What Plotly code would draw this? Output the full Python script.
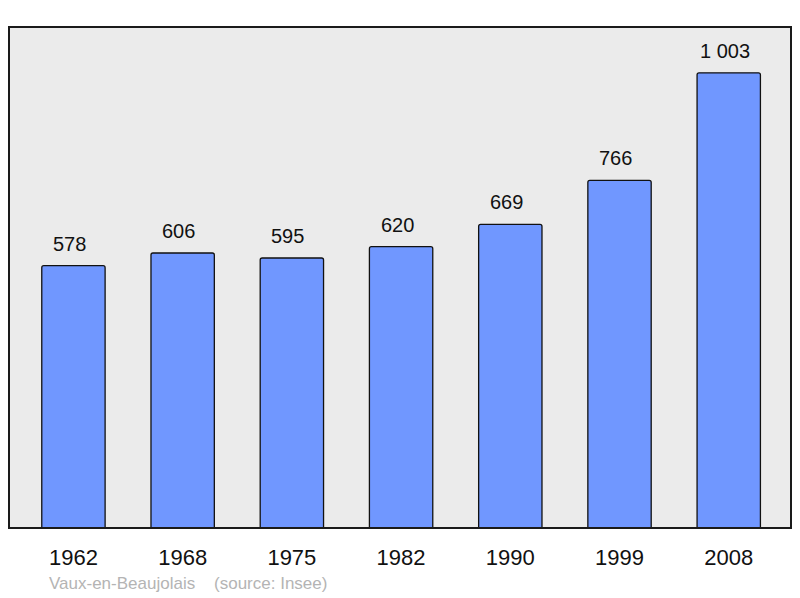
import plotly.graph_objects as go

years = ['1962', '1968', '1975', '1982', '1990', '1999', '2008']
population = [578, 606, 595, 620, 669, 766, 1003]
labels = ['{:,}'.format(v).replace(',', '\u00a0') for v in population]

# the page body has an 8px margin, so the figure is drawn 8px in and up-left trimmed
W, H, OFF = 800, 598, 8

fig = go.Figure()
fig.add_trace(go.Bar(
    x=years, y=population,
    width=0.58,
    marker=dict(color='#7097ff', line=dict(color='#111111', width=1.3), cornerradius=2),
    hoverinfo='skip'
))

for i, (v, lab) in enumerate(zip(population, labels)):
    fig.add_annotation(x=i, y=v, text=lab, showarrow=False, yanchor='bottom', yshift=9, xshift=-4,
                       font=dict(family='Liberation Sans, Arial', size=20, color='#111111'))

fig.add_annotation(xref='paper', yref='paper', x=0.048, y=-0.11, xanchor='left', yanchor='middle',
                   text='Vaux-en-Beaujolais\u00a0\u00a0\u00a0\u00a0(source: Insee)', showarrow=False,
                   font=dict(family='Liberation Sans, Arial', size=17, color='#b4b4b4'))

fig.add_shape(type='rect', xref='paper', yref='paper', x0=0, y0=0, x1=1, y1=1,
              line=dict(color='#1a1a1a', width=2), layer='above')

fig.update_layout(
    width=W - OFF, height=H - OFF,
    margin=dict(l=9 - OFF, r=9, t=27 - OFF, b=70),
    paper_bgcolor='white', plot_bgcolor='#ebebeb',
    showlegend=False,
    font=dict(family='Liberation Sans, Arial', color='#111111'),
)
fig.update_xaxes(type='category', range=[-0.59, 6.57], showgrid=False, zeroline=False,
                 showline=False, ticks='', ticklabelstandoff=14, tickfont=dict(size=22))
fig.update_yaxes(range=[0, 1104], showgrid=False, zeroline=False, showticklabels=False)

fig.write_html('out.html')
